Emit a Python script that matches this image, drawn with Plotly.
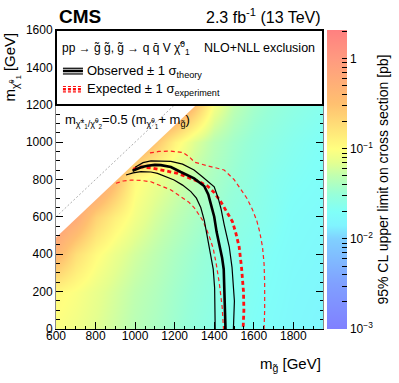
import numpy as np
import plotly.graph_objects as go

# grid of the limit map [GeV]
m_gluino = [600, 700, 800, 900, 1000, 1100, 1200, 1300, 1400, 1500, 1600, 1700, 1800, 1950]
m_lsp = [0, 200, 400, 600, 800, 1000, 1200]

# 95% CL upper limit on the cross section [pb], one list per m_lsp row
limit_lsp0 = [0.095, 0.083, 0.069, 0.057, 0.046, 0.040, 0.034, 0.029, 0.025, 0.022, 0.020, 0.018, 0.0165, 0.015]
limit_lsp200 = [0.110, 0.094, 0.076, 0.062, 0.050, 0.043, 0.036, 0.031, 0.027, 0.023, 0.021, 0.019, 0.017, 0.0158]
limit_lsp400 = [0.42, 0.178, 0.107, 0.078, 0.060, 0.049, 0.040, 0.034, 0.029, 0.025, 0.022, 0.020, 0.018, 0.0165]
limit_lsp600 = [1.0, 0.60, 0.224, 0.13, 0.085, 0.062, 0.049, 0.040, 0.033, 0.028, 0.025, 0.022, 0.019, 0.0175]
limit_lsp800 = [1.0, 1.0, 1.0, 0.37, 0.11, 0.080, 0.062, 0.048, 0.039, 0.032, 0.027, 0.023, 0.021, 0.019]
limit_lsp1000 = [1.0, 1.0, 1.0, 1.0, 0.68, 0.30, 0.12, 0.068, 0.046, 0.036, 0.030, 0.026, 0.023, 0.020]
limit_lsp1200 = [1.0, 1.0, 1.0, 1.0, 1.0, 1.0, 0.98, 0.34, 0.09, 0.050, 0.037, 0.031, 0.027, 0.023]

# edge of the scanned region (no points above it)
edge_mg = [600, 1500]
edge_mlsp = [490, 1390]
diag_mg = [600, 1600]
diag_mlsp = [600, 1600]

# exclusion contours
obs_mg = [987, 1030, 1063, 1100, 1130, 1181, 1231, 1298, 1349, 1370, 1385, 1400, 1412, 1425, 1440, 1448, 1452, 1455, 1457]
obs_mlsp = [847, 865, 874, 878, 877, 867, 840, 806, 765, 720, 660, 601, 520, 458, 380, 320, 200, 100, 0]
obs_up_mg = [1000, 1040, 1080, 1181, 1240, 1298, 1340, 1400, 1420, 1434, 1450, 1462, 1476, 1490, 1500, 1502, 1497]
obs_up_mlsp = [865, 890, 900, 897, 882, 851, 815, 761, 700, 645, 560, 500, 440, 330, 200, 150, 0]
obs_dn_mg = [954, 990, 1029, 1080, 1113, 1160, 1197, 1240, 1282, 1310, 1332, 1350, 1365, 1380, 1395, 1402, 1405, 1405]
obs_dn_mlsp = [824, 835, 842, 840, 833, 815, 797, 770, 735, 700, 650, 580, 500, 420, 320, 220, 100, 0]
exp_mg = [990, 1020, 1080, 1164, 1215, 1265, 1320, 1366, 1400, 1434, 1460, 1492, 1510, 1526, 1538, 1548, 1550, 1546]
exp_mlsp = [855, 868, 862, 845, 833, 812, 790, 765, 730, 680, 635, 575, 510, 440, 330, 200, 100, 0]
exp_up_mg = [1075, 1120, 1180, 1240, 1275, 1300, 1360, 1450, 1500, 1534, 1565, 1593, 1615, 1630, 1644, 1652, 1655, 1655, 1652]
exp_up_mlsp = [942, 950, 952, 945, 920, 893, 875, 851, 800, 750, 700, 640, 580, 520, 440, 350, 250, 100, 0]
exp_dn_mg = [903, 940, 979, 1030, 1080, 1130, 1181, 1231, 1270, 1298, 1341, 1374, 1395, 1410, 1425, 1440, 1447]
exp_dn_mlsp = [780, 792, 797, 795, 788, 768, 744, 708, 680, 650, 583, 500, 430, 350, 250, 120, 0]

cb_major = [-3, -2, -1, 0]
cb_major_text = ["10<sup>−3</sup>", "10<sup>−2</sup>", "10<sup>−1</sup>", "1"]

FONT = "Liberation Sans, Arial, sans-serif"

z = np.log10([limit_lsp0, limit_lsp200, limit_lsp400, limit_lsp600,
              limit_lsp800, limit_lsp1000, limit_lsp1200])

# colorbar ticks: decades plus 2..9 minor
tickvals = []
ticktext = []
for d in range(-3, 1):
    for k in range(1, 10):
        v = d + np.log10(k)
        if v > 0.32:
            break
        tickvals.append(v)
        ticktext.append(cb_major_text[cb_major.index(d)] if k == 1 else "")

colorscale = [
    [0.0, "#8080ff"],
    [0.151, "#80a0ff"],
    [0.301, "#80d0ff"],
    [0.346, "#80f4ff"],
    [0.392, "#80fff8"],
    [0.452, "#98ffd8"],
    [0.512, "#c0ffb0"],
    [0.557, "#e4ff90"],
    [0.602, "#ffff80"],
    [0.753, "#ffc070"],
    [0.904, "#ff9a80"],
    [1.0, "#ff8080"],
]

fig = go.Figure()
fig.add_trace(go.Heatmap(
    x=m_gluino, y=m_lsp, z=z, zsmooth="best",
    zmin=-3, zmax=0.32, colorscale=colorscale,
    colorbar=dict(thickness=20, len=1, lenmode="fraction", y=0.5, yanchor="middle",
                  x=1.015, xanchor="left", xpad=0, ypad=0, outlinewidth=0,
                  tickvals=tickvals, ticktext=ticktext, ticks="inside", ticklen=5,
                  tickcolor="black", tickfont=dict(size=12, family=FONT, color="black"),
                  title=dict(text="95% CL upper limit on cross section [pb]", side="right",
                             font=dict(size=14, family=FONT, color="black"))),
))
# white area above the scanned region
fig.add_trace(go.Scatter(x=edge_mg, y=edge_mlsp, mode="lines", line=dict(width=0),
                         hoverinfo="skip", showlegend=False))
fig.add_trace(go.Scatter(x=edge_mg, y=[1600] * len(edge_mg), mode="lines", line=dict(width=0),
                         fill="tonexty", fillcolor="white", hoverinfo="skip", showlegend=False))
fig.add_trace(go.Scatter(x=diag_mg, y=diag_mlsp, mode="lines",
                         line=dict(color="#b0b0b0", width=1, dash="2px,2px"), showlegend=False))

for xs, ys, col, w, dash in [
    (exp_up_mg, exp_up_mlsp, "#ff2020", 1.2, "4px,3px"),
    (exp_dn_mg, exp_dn_mlsp, "#ff2020", 1.2, "4px,3px"),
    (exp_mg, exp_mlsp, "#ff1010", 2.8, "4px,3px"),
    (obs_up_mg, obs_up_mlsp, "black", 1.2, "solid"),
    (obs_dn_mg, obs_dn_mlsp, "black", 1.2, "solid"),
    (obs_mg, obs_mlsp, "black", 2.6, "solid"),
]:
    fig.add_trace(go.Scatter(x=xs, y=ys, mode="lines",
                             line=dict(color=col, width=w, dash=dash), showlegend=False))

# legend box and samples
shapes = [dict(type="rect", xref="paper", yref="paper", x0=0, x1=1, y0=0.749, y1=1,
               fillcolor="white", line=dict(color="black", width=2), layer="above")]
for yy, w in [(0.872, 1.2), (0.863, 2.6), (0.853, 1.2)]:
    shapes.append(dict(type="line", xref="paper", yref="paper", x0=0.026, x1=0.101, y0=yy, y1=yy,
                       line=dict(color="black", width=w), layer="above"))
for yy, w in [(0.811, 1.2), (0.802, 2.6), (0.793, 1.2)]:
    shapes.append(dict(type="line", xref="paper", yref="paper", x0=0.026, x1=0.101, y0=yy, y1=yy,
                       line=dict(color="#ff1010", width=w, dash="3px,2px"), layer="above"))

ann = [
    dict(text="<b>CMS</b>", x=0.004, y=1.045, xanchor="left", yanchor="middle", font=dict(size=19)),
    dict(text="2.3 fb<sup>-1</sup> (13 TeV)", x=1.0, y=1.047, xanchor="right", yanchor="middle",
         font=dict(size=16)),
    dict(text="pp → g̃ g̃, g̃ → q q̄ V χ̃<sup>0</sup><sub>1</sub>", x=0.015, y=0.94,
         xanchor="left", yanchor="middle", font=dict(size=12)),
    dict(text="NLO+NLL exclusion", x=0.545, y=0.94, xanchor="left", yanchor="middle",
         font=dict(size=12.5)),
    dict(text="Observed ± 1 σ<sub>theory</sub>", x=0.109, y=0.861, xanchor="left", yanchor="middle",
         font=dict(size=13)),
    dict(text="Expected ± 1 σ<sub>experiment</sub>", x=0.109, y=0.800, xanchor="left",
         yanchor="middle", font=dict(size=13)),
    dict(text="m<sub>χ̃<sup>±</sup><sub>1</sub>/χ̃<sup>0</sup><sub>2</sub></sub>=0.5 (m<sub>χ̃<sup>0</sup><sub>1</sub></sub>+ m<sub>g̃</sub>)",
         x=0.026, y=0.696, xanchor="left", yanchor="middle", font=dict(size=13)),
    dict(text="m<sub>χ̃<sup>0</sup><sub>1</sub></sub> [GeV]", x=-0.165, y=1.0, xanchor="center",
         yanchor="top", textangle=-90, font=dict(size=15)),
    dict(text="m<sub>g̃</sub> [GeV]", x=1.0, y=-0.12, xanchor="right", yanchor="middle",
         font=dict(size=15)),
]
for a in ann:
    a.update(xref="paper", yref="paper", showarrow=False)
    a["font"].update(family=FONT, color="black")

axis_common = dict(ticks="inside", ticklen=7, tickcolor="black", showline=True, mirror="ticks",
                   showgrid=False, zeroline=False, tickfont=dict(size=12, family=FONT, color="black"),
                   minor=dict(dtick=50, ticks="inside", ticklen=3.5, tickcolor="black", showgrid=False))

fig.update_layout(
    width=399, height=383,
    margin=dict(l=56, r=76, t=30, b=54, autoexpand=False),
    paper_bgcolor="white", plot_bgcolor="white",
    shapes=shapes, annotations=ann,
    xaxis=dict(range=[600, 1950], dtick=200, linecolor="black", ticklabelstandoff=-4, **axis_common),
    yaxis=dict(range=[0, 1600], dtick=200, linecolor="#888888", **axis_common),
    font=dict(family=FONT, color="black"),
    showlegend=False,
)

# page body has a default 8px margin; drop it so the figure sits at the window origin
fig.write_html("out.html", config={"displayModeBar": False},
               post_script="document.body.style.margin = '0px';")
